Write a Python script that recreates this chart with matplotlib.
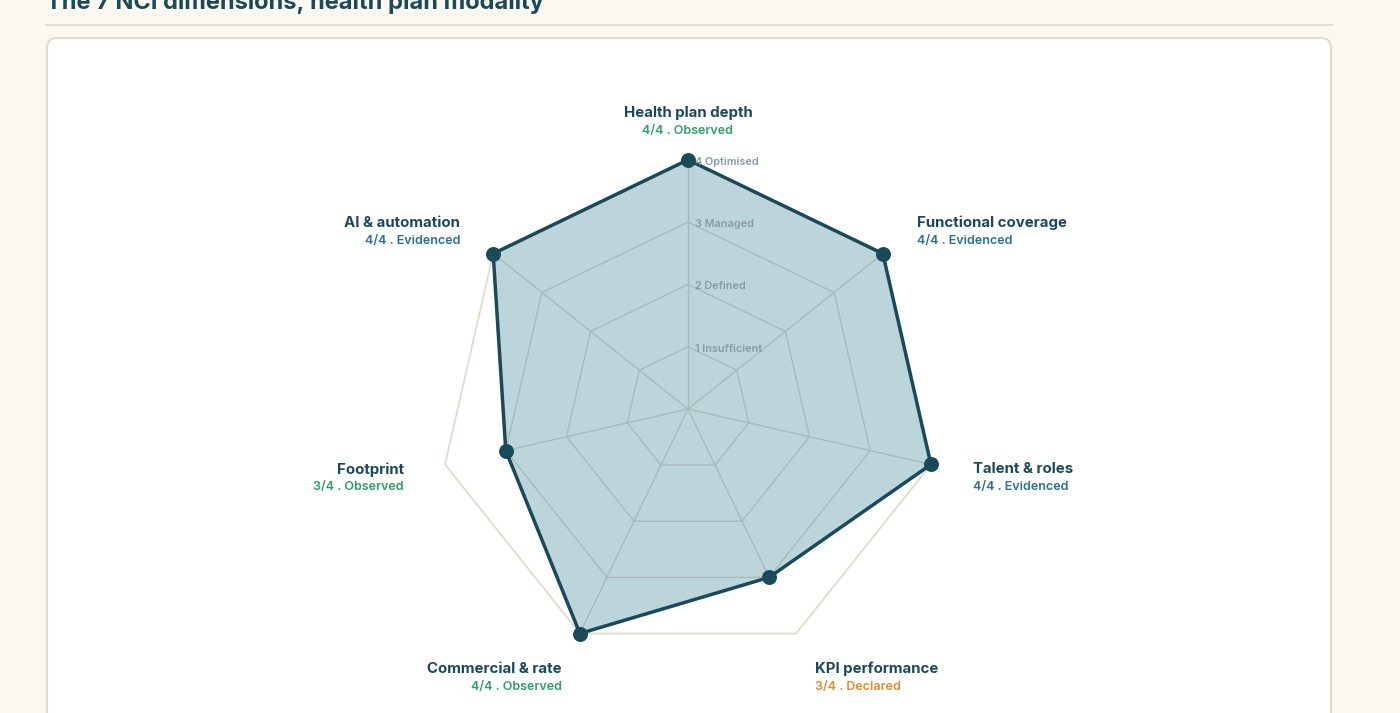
import numpy as np
import matplotlib
matplotlib.use("Agg")
import matplotlib.pyplot as plt
from matplotlib.patches import FancyBboxPatch, Polygon

plt.rcParams['font.family'] = ['Inter', 'DejaVu Sans']

title = "The 7 NCI dimensions, health plan modality"
dimensions = ["Health plan depth", "Functional coverage", "Talent & roles", "KPI performance",
              "Commercial & rate", "Footprint", "AI & automation"]
scores = [4, 4, 4, 3, 4, 3, 4]
max_score = 4
evidence = ["Observed", "Evidenced", "Evidenced", "Declared", "Observed", "Observed", "Evidenced"]
level_labels = ["1 Insufficient", "2 Defined", "3 Managed", "4 Optimised"]
evidence_colors = {"Observed": "#2e9e6a", "Evidenced": "#2a7090", "Declared": "#d98e2b"}

DARK = "#1a4a5a"
W, H = 1400, 713
fig = plt.figure(figsize=(W/100, H/100), dpi=100, facecolor="#faf8f0")
ax = fig.add_axes([0, 0, 1, 1])
ax.set_xlim(0, W); ax.set_ylim(H, 0); ax.axis("off")

ax.text(46, 2, title, fontsize=17, fontweight="bold", color=DARK, va="center")
ax.plot([46, 1332], [25, 25], color="#e2ddc8", lw=1.5)
ax.add_patch(FancyBboxPatch((47, 38), 1284, 700, boxstyle="round,pad=0,rounding_size=10",
                            fc="white", ec="#e0dccb", lw=1.5))

cx, cy, step = 688, 409, 62.3
n = len(dimensions)
ang = np.arange(n) * 2 * np.pi / n
def pt(r, a):
    return cx + r * step * np.sin(a), cy - r * step * np.cos(a)

ox, oy = pt(max_score, ang)
ax.add_patch(Polygon(np.c_[ox, oy], closed=True, fill=False, ec="#e0dccb", lw=1.3, zorder=1))
dx, dy = pt(np.array(scores), ang)
ax.add_patch(Polygon(np.c_[dx, dy], closed=True, fc="#bcd5db", ec="none", zorder=2))
for lv in range(1, max_score):
    gx, gy = pt(lv, ang)
    ax.add_patch(Polygon(np.c_[gx, gy], closed=True, fill=False, ec="#a9b8bb", lw=1, zorder=3))
for a, s in zip(ang, scores):
    sx, sy = pt(s, a)
    ax.plot([cx, sx], [cy, sy], color="#a9b8bb", lw=1, zorder=3)
ax.add_patch(Polygon(np.c_[dx, dy], closed=True, fill=False, ec=DARK, lw=2.5, zorder=4))
ax.scatter(dx, dy, s=95, color=DARK, zorder=5)

for lv, lab in enumerate(level_labels, start=1):
    ax.text(cx + 7, cy - lv * step + 2, lab, fontsize=7.8, color="#8a9aa0",
            fontweight="semibold", va="center", ha="left", zorder=4)

offs = [(0, -47, "center"), (34, -31, "left"), (42, 5, "left"), (19, 35, "left"),
        (-18, 35, "right"), (-41, 5, "right"), (-33, -31, "right")]
for i, (name, s, ev) in enumerate(zip(dimensions, scores, evidence)):
    vx, vy = pt(max_score, ang[i])
    ox_, oy_, ha = offs[i]
    ax.text(vx + ox_, vy + oy_, name, fontsize=10.8, fontweight="bold", color=DARK, ha=ha, va="center")
    ax.text(vx + ox_, vy + oy_ + 18, f"{s}/{max_score} . {ev}", fontsize=9, fontweight="semibold",
            color=evidence_colors[ev], ha=ha, va="center")

fig.savefig("out.png", dpi=100, facecolor=fig.get_facecolor())
